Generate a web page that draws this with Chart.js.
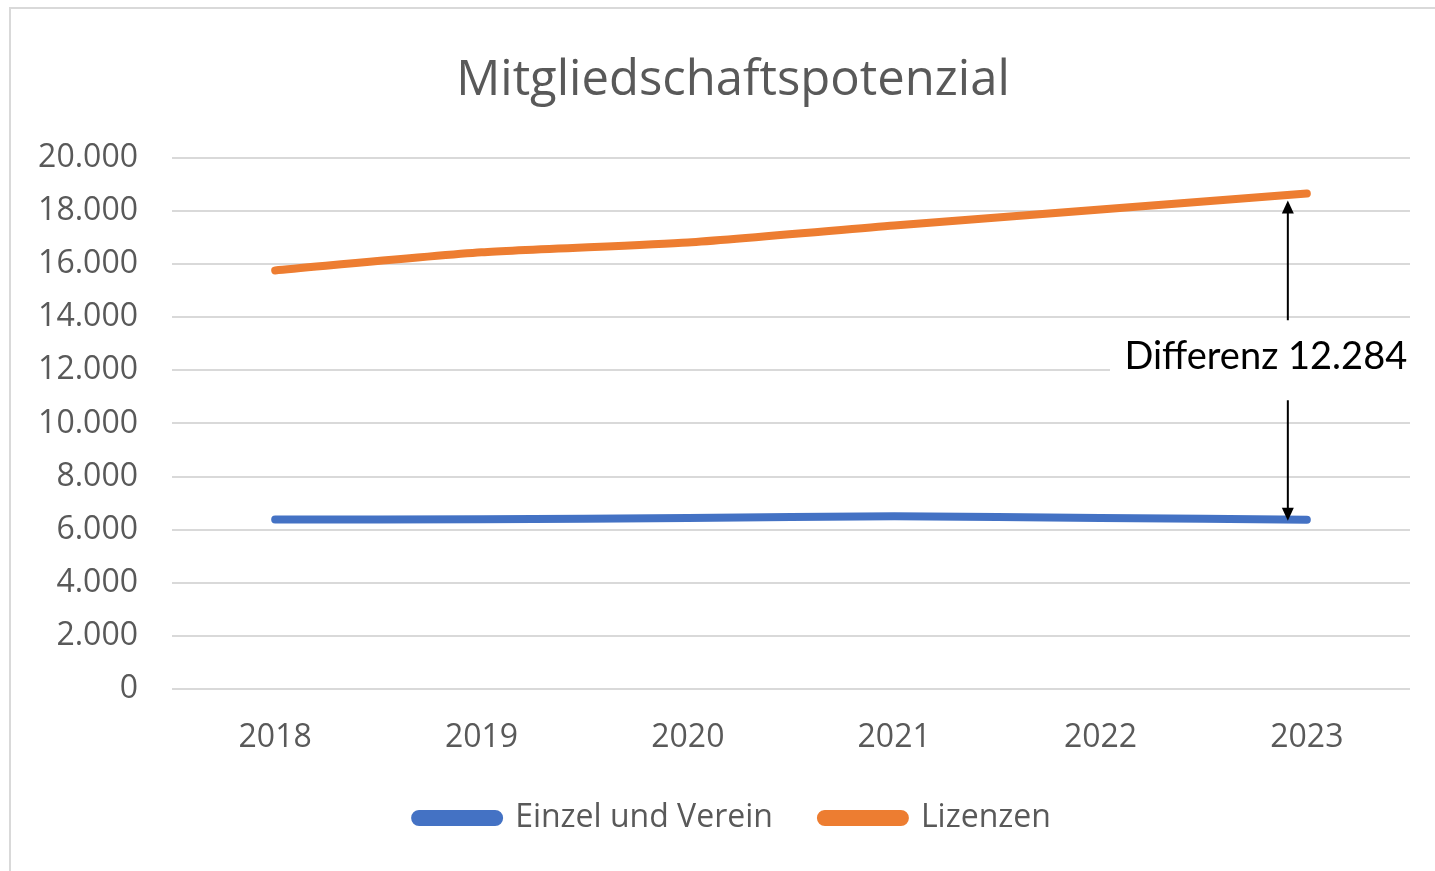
<!DOCTYPE html>
<html>
<head>
<meta charset="utf-8">
<script src="https://cdn.jsdelivr.net/npm/chart.js@4.4.1/dist/chart.umd.min.js"></script>
<style>
  html, body { margin: 0; padding: 0; background: #fff; }
  #wrap { width: 1435px; height: 871px; position: relative; }
</style>
</head>
<body>
<div id="wrap"><canvas id="potenzial"></canvas></div>
<script>
// data
const years = ['2018', '2019', '2020', '2021', '2022', '2023'];
const einzelVerein = [6380, 6390, 6440, 6500, 6440, 6370];
const lizenzen = [15760, 16440, 16810, 17450, 18050, 18654];
const seriesNames = ['Einzel und Verein', 'Lizenzen'];
const seriesColors = ['#4472C4', '#ED7D31'];
const yMax = 20000;
const yStep = 2000;

function fmtDE(v) {
    "use strict";
    return String(Math.round(v)).replace(/\B(?=(\d{3})+(?!\d))/g, '.');
}

// outer frame like the office chart box
const framePlugin = {
    id: 'frame',
    afterLayout: function (chart) {
        // let the y tick labels use the space left of the padding
        chart.scales.y.left = 10;
    },
    beforeDraw: function (chart) {
        const ctx = chart.ctx;
        ctx.save();
        ctx.fillStyle = '#ffffff';
        ctx.fillRect(0, 0, chart.width, chart.height);
        ctx.strokeStyle = '#d9d9d9';
        ctx.lineWidth = 2;
        ctx.strokeRect(10, 8, chart.width + 20, chart.height + 20);
        ctx.restore();
    }
};

// difference arrows + label at the last year
const diffPlugin = {
    id: 'diff',
    afterDatasetsDraw: function (chart) {
        const ctx = chart.ctx;
        const xs = chart.scales.x, ys = chart.scales.y;
        const last = years.length - 1;
        const x = xs.getPixelForValue(last) - 19;
        const yTop = ys.getPixelForValue(lizenzen[last]) + 7;
        const yBot = ys.getPixelForValue(einzelVerein[last]) + 1;
        const mid = ys.getPixelForValue(12000) - 14;
        const label = 'Differenz ' + fmtDE(lizenzen[last] - einzelVerein[last]);

        ctx.save();
        ctx.fillStyle = '#ffffff';
        ctx.fillRect(1110, mid - 30, 310, 68);

        ctx.strokeStyle = '#000';
        ctx.fillStyle = '#000';
        ctx.lineWidth = 2;
        ctx.beginPath();
        ctx.moveTo(x, mid - 36);
        ctx.lineTo(x, yTop + 10);
        ctx.moveTo(x, mid + 44);
        ctx.lineTo(x, yBot - 10);
        ctx.stroke();
        // heads
        ctx.beginPath();
        ctx.moveTo(x, yTop);
        ctx.lineTo(x - 6, yTop + 13);
        ctx.lineTo(x + 6, yTop + 13);
        ctx.closePath();
        ctx.fill();
        ctx.beginPath();
        ctx.moveTo(x, yBot);
        ctx.lineTo(x - 6, yBot - 13);
        ctx.lineTo(x + 6, yBot - 13);
        ctx.closePath();
        ctx.fill();

        ctx.font = '38px Lato, "Open Sans", sans-serif';
        ctx.textAlign = 'center';
        ctx.textBaseline = 'middle';
        ctx.fillText(label, x - 22, mid);
        ctx.restore();
    }
};

const chartdata = {
    labels: years,
    datasets: [
        {
            label: seriesNames[0],
            data: einzelVerein,
            borderColor: seriesColors[0],
            backgroundColor: seriesColors[0],
            borderWidth: 8,
            borderCapStyle: 'round',
            pointRadius: 0,
            tension: 0.2
        },
        {
            label: seriesNames[1],
            data: lizenzen,
            borderColor: seriesColors[1],
            backgroundColor: seriesColors[1],
            borderWidth: 8,
            borderCapStyle: 'round',
            pointRadius: 0,
            tension: 0.2
        }
    ]
};

const config = {
    type: 'line',
    data: chartdata,
    options: {
        responsive: true,
        maintainAspectRatio: false,
        animation: false,
        layout: {
            padding: { left: 56, right: 25, top: 52, bottom: 27 }
        },
        plugins: {
            title: {
                display: true,
                text: 'Mitgliedschaftspotenzial',
                color: '#595959',
                font: { family: '"Open Sans", sans-serif', size: 49, weight: 'normal' },
                padding: { top: 0, bottom: 47 }
            },
            legend: {
                position: 'bottom',
                labels: {
                    boxWidth: 84,
                    boxHeight: 8,
                    useBorderRadius: true,
                    borderRadius: 4,
                    color: '#595959',
                    padding: 48,
                    font: { family: '"Open Sans", sans-serif', size: 32 }
                }
            },
            tooltip: { enabled: false }
        },
        scales: {
            x: {
                offset: true,
                afterFit: function (scale) { scale.height = 65; },
                grid: { display: false },
                border: { display: false },
                ticks: {
                    color: '#595959',
                    padding: 22,
                    font: { family: '"Open Sans", sans-serif', size: 32 }
                }
            },
            y: {
                min: 0,
                max: yMax,
                afterFit: function (scale) { scale.width = 116; },
                grid: { color: '#d9d9d9', lineWidth: 2, drawTicks: false },
                border: { display: false },
                ticks: {
                    stepSize: yStep,
                    color: '#595959',
                    padding: 34,
                    font: { family: '"Open Sans", sans-serif', size: 32 },
                    callback: function (v) { return fmtDE(v); }
                }
            }
        }
    },
    plugins: [framePlugin, diffPlugin]
};

new Chart(document.getElementById('potenzial'), config);
</script>
</body>
</html>
